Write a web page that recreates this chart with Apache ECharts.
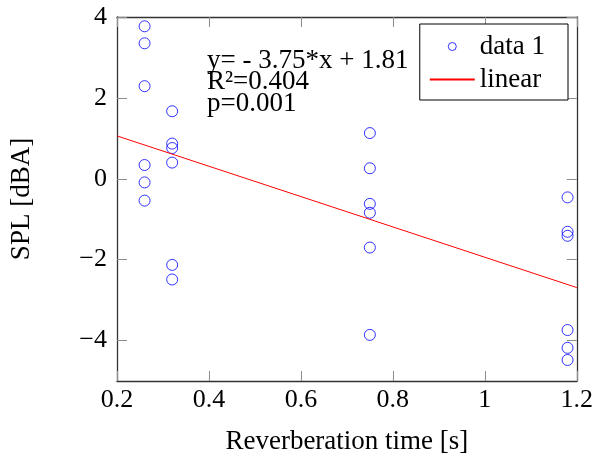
<!DOCTYPE html>
<html><head><meta charset="utf-8">
<script src="https://cdn.jsdelivr.net/npm/echarts@6/dist/echarts.min.js"></script>
<style>html,body{margin:0;padding:0;background:#fff}#c{width:596px;height:465px}</style>
</head><body><div id="c"></div>
<script>
const reverbTimes = [0.26, 0.32, 0.75, 1.18];
const splCol1 = [3.77, 3.35, 2.29, 0.34, -0.09, -0.54];
const splCol2 = [1.67, 0.87, 0.76, 0.40, -2.13, -2.49];
const splCol3 = [1.13, 0.26, -0.62, -0.84, -1.70, -3.86];
const splCol4 = [-0.46, -1.31, -1.41, -3.74, -4.18, -4.48];
const fitSlope = -3.75;
const fitIntercept = 1.81;
const fitRange = [0.2, 1.2];
const xTicks = [0.2, 0.4, 0.6, 0.8, 1, 1.2];
const yTicks = [-4, -2, 0, 2, 4];
const annotationLines = ['y= - 3.75*x + 1.81', 'R\u00B2=0.404', 'p=0.001'];

const cols = [splCol1, splCol2, splCol3, splCol4];
const scatterData = [];
cols.forEach((c, i) => c.forEach(v => scatterData.push([reverbTimes[i], v])));
const lineData = fitRange.map(x => [x, fitSlope * x + fitIntercept]);

const FONT = 'Liberation Serif';
const FS = 26;
const fmt = v => (v < 0 ? '\u2212' + Math.abs(v) : String(v));
const tickStyle = {show: true, inside: true, length: 10, lineStyle: {color: '#8c8c8c', width: 1}};
const axLine = {show: true, onZero: false, lineStyle: {color: '#333', width: 1.3}};

const chart = echarts.init(document.getElementById('c'), null, {renderer: 'canvas'});
chart.setOption({
  animation: false,
  grid: {left: 115, right: 18, top: 17, bottom: 84},
  xAxis: [{
    type: 'value', min: 0.2, max: 1.2, interval: 0.2, position: 'bottom',
    axisLine: axLine, splitLine: {show: false},
    axisTick: Object.assign({}, tickStyle, {customValues: xTicks}),
    axisLabel: {color: '#000', fontFamily: FONT, fontSize: FS, margin: 6, customValues: xTicks,
      formatter: v => fmt(+(+v).toFixed(1))},
    name: 'Reverberation time [s]', nameLocation: 'middle', nameGap: 47,
    nameTextStyle: {color: '#000', fontFamily: FONT, fontSize: 27}
  }, {
    type: 'value', min: 0.2, max: 1.2, interval: 0.2, position: 'top',
    axisLine: axLine, splitLine: {show: false},
    axisTick: Object.assign({}, tickStyle, {customValues: xTicks}),
    axisLabel: {show: false}
  }],
  yAxis: [{
    type: 'value', min: -5, max: 4, position: 'left',
    axisLine: axLine, splitLine: {show: false},
    axisTick: Object.assign({}, tickStyle, {customValues: yTicks}),
    axisLabel: {color: '#000', fontFamily: FONT, fontSize: FS, margin: 10, customValues: yTicks, formatter: v => fmt(v)},
    name: 'SPL [dBA]', nameLocation: 'middle', nameGap: 82, nameRotate: 90,
    nameTextStyle: {color: '#000', fontFamily: FONT, fontSize: 27}
  }, {
    type: 'value', min: -5, max: 4, position: 'right',
    axisLine: axLine, splitLine: {show: false},
    axisTick: Object.assign({}, tickStyle, {customValues: yTicks}),
    axisLabel: {show: false}
  }],
  legend: {
    orient: 'vertical', right: 28, top: 24, padding: [9, 23, 7, 9],
    backgroundColor: '#fff', borderColor: '#000', borderWidth: 1,
    itemWidth: 45, itemHeight: 8, itemGap: 6,
    itemStyle: {borderWidth: 1},
    textStyle: {color: '#000', fontFamily: FONT, fontSize: 27},
    data: ['data 1', 'linear'], z: 10
  },
  series: [{
    name: 'data 1', type: 'scatter', data: scatterData,
    symbol: 'circle', symbolSize: 11,
    itemStyle: {color: 'rgba(0,0,0,0)', borderColor: '#0000ff', borderWidth: 1}
  }, {
    name: 'linear', type: 'line', data: lineData, symbol: 'none',
    itemStyle: {color: 'rgba(0,0,0,0)', borderWidth: 0, opacity: 0},
    lineStyle: {color: '#ff0000', width: 1, opacity: 1}
  }],
  graphic: annotationLines.map((t, i) => ({
    type: 'text', left: 207, top: 47 + i * 21.5, z: 5,
    style: {text: t, fill: '#000', font: '27px "' + FONT + '"'}
  }))
});
</script></body></html>
